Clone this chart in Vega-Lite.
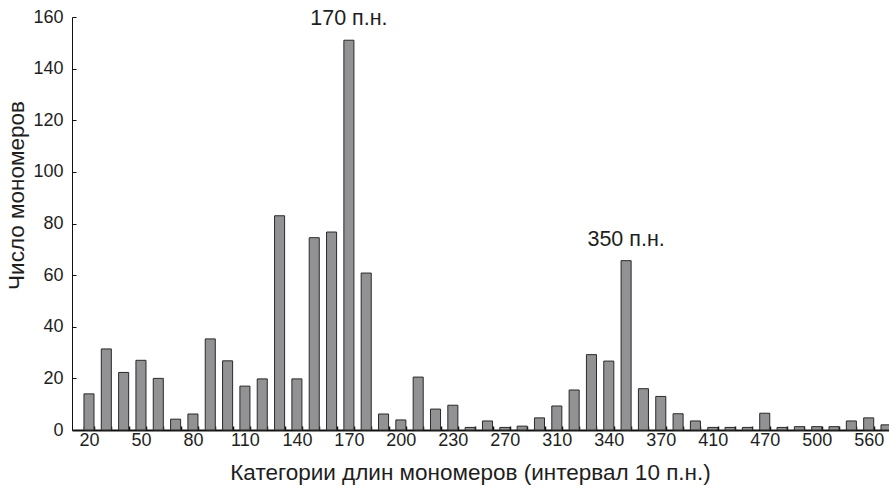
{
  "$schema": "https://vega.github.io/schema/vega-lite/v6.json",
  "autosize": "none",
  "padding": {"left": 72, "top": 17, "right": 0, "bottom": 60},
  "width": 831,
  "height": 413,
  "background": "white",
  "config": {
    "view": {"stroke": null},
    "font": "Liberation Sans",
    "axis": {"grid": false, "labelFont": "Liberation Sans", "titleFont": "Liberation Sans", "labelColor": "#1e1e1e", "titleColor": "#1e1e1e", "domainColor": "#111", "tickColor": "#111"}
  },
  "datasets": {
    "bars": [
      {"i": 0, "n": 14}, {"i": 1, "n": 31.4}, {"i": 2, "n": 22.3}, {"i": 3, "n": 27}, {"i": 4, "n": 20},
      {"i": 5, "n": 4.2}, {"i": 6, "n": 6.2}, {"i": 7, "n": 35.3}, {"i": 8, "n": 26.8}, {"i": 9, "n": 17},
      {"i": 10, "n": 19.8}, {"i": 11, "n": 83}, {"i": 12, "n": 19.8}, {"i": 13, "n": 74.5}, {"i": 14, "n": 76.7},
      {"i": 15, "n": 151}, {"i": 16, "n": 60.8}, {"i": 17, "n": 6.2}, {"i": 18, "n": 3.9}, {"i": 19, "n": 20.5},
      {"i": 20, "n": 8.1}, {"i": 21, "n": 9.6}, {"i": 22, "n": 1}, {"i": 23, "n": 3.5}, {"i": 24, "n": 1},
      {"i": 25, "n": 1.5}, {"i": 26, "n": 4.7}, {"i": 27, "n": 9.3}, {"i": 28, "n": 15.5}, {"i": 29, "n": 29.2},
      {"i": 30, "n": 26.7}, {"i": 31, "n": 65.6}, {"i": 32, "n": 16}, {"i": 33, "n": 13}, {"i": 34, "n": 6.3},
      {"i": 35, "n": 3.5}, {"i": 36, "n": 1}, {"i": 37, "n": 1}, {"i": 38, "n": 1}, {"i": 39, "n": 6.5},
      {"i": 40, "n": 1}, {"i": 41, "n": 1.3}, {"i": 42, "n": 1.3}, {"i": 43, "n": 1.3}, {"i": 44, "n": 3.5},
      {"i": 45, "n": 4.7}, {"i": 46, "n": 2}
    ],
    "notes": [
      {"i": 15, "n": 151, "label": "170 п.н."},
      {"i": 31, "n": 65.6, "label": "350 п.н."}
    ]
  },
  "layer": [
    {
      "data": {"name": "bars"},
      "mark": {"type": "bar", "fill": "#929295", "stroke": "#2a2a2a", "strokeWidth": 1},
      "encoding": {
        "x": {
          "field": "i", "type": "ordinal",
          "scale": {"paddingInner": 0.42, "paddingOuter": 0.69},
          "axis": {
            "title": "Категории длин мономеров (интервал 10 п.н.)",
            "titleFontSize": 22.5, "titleFontWeight": "normal", "titlePadding": 12, "titleX": 398,
            "labelFontSize": 18, "labelAngle": 0, "labelPadding": 5,
            "labelExpr": "datum.value % 3 == 0 ? ['20','50','80','110','140','170','200','230','270','310','340','370','410','470','500','560'][datum.value / 3] : ''",
            "tickBand": "extent", "tickSize": -4, "tickWidth": 1.5,
            "domainWidth": 2
          }
        },
        "y": {
          "field": "n", "type": "quantitative",
          "scale": {"domain": [0, 160], "nice": false},
          "axis": {
            "title": "Число мономеров",
            "titleFontSize": 22.5, "titleFontWeight": "normal", "titlePadding": 4, "titleY": 178,
            "labelFontSize": 18, "labelPadding": 13,
            "values": [0, 20, 40, 60, 80, 100, 120, 140, 160],
            "tickSize": -4, "domainWidth": 1
          }
        }
      }
    },
    {
      "data": {"name": "notes"},
      "mark": {"type": "text", "fontSize": 21.5, "font": "Liberation Sans", "color": "#1e1e1e", "baseline": "middle", "dy": -21},
      "encoding": {
        "x": {"field": "i", "type": "ordinal"},
        "y": {"field": "n", "type": "quantitative"},
        "text": {"field": "label"}
      }
    }
  ]
}
